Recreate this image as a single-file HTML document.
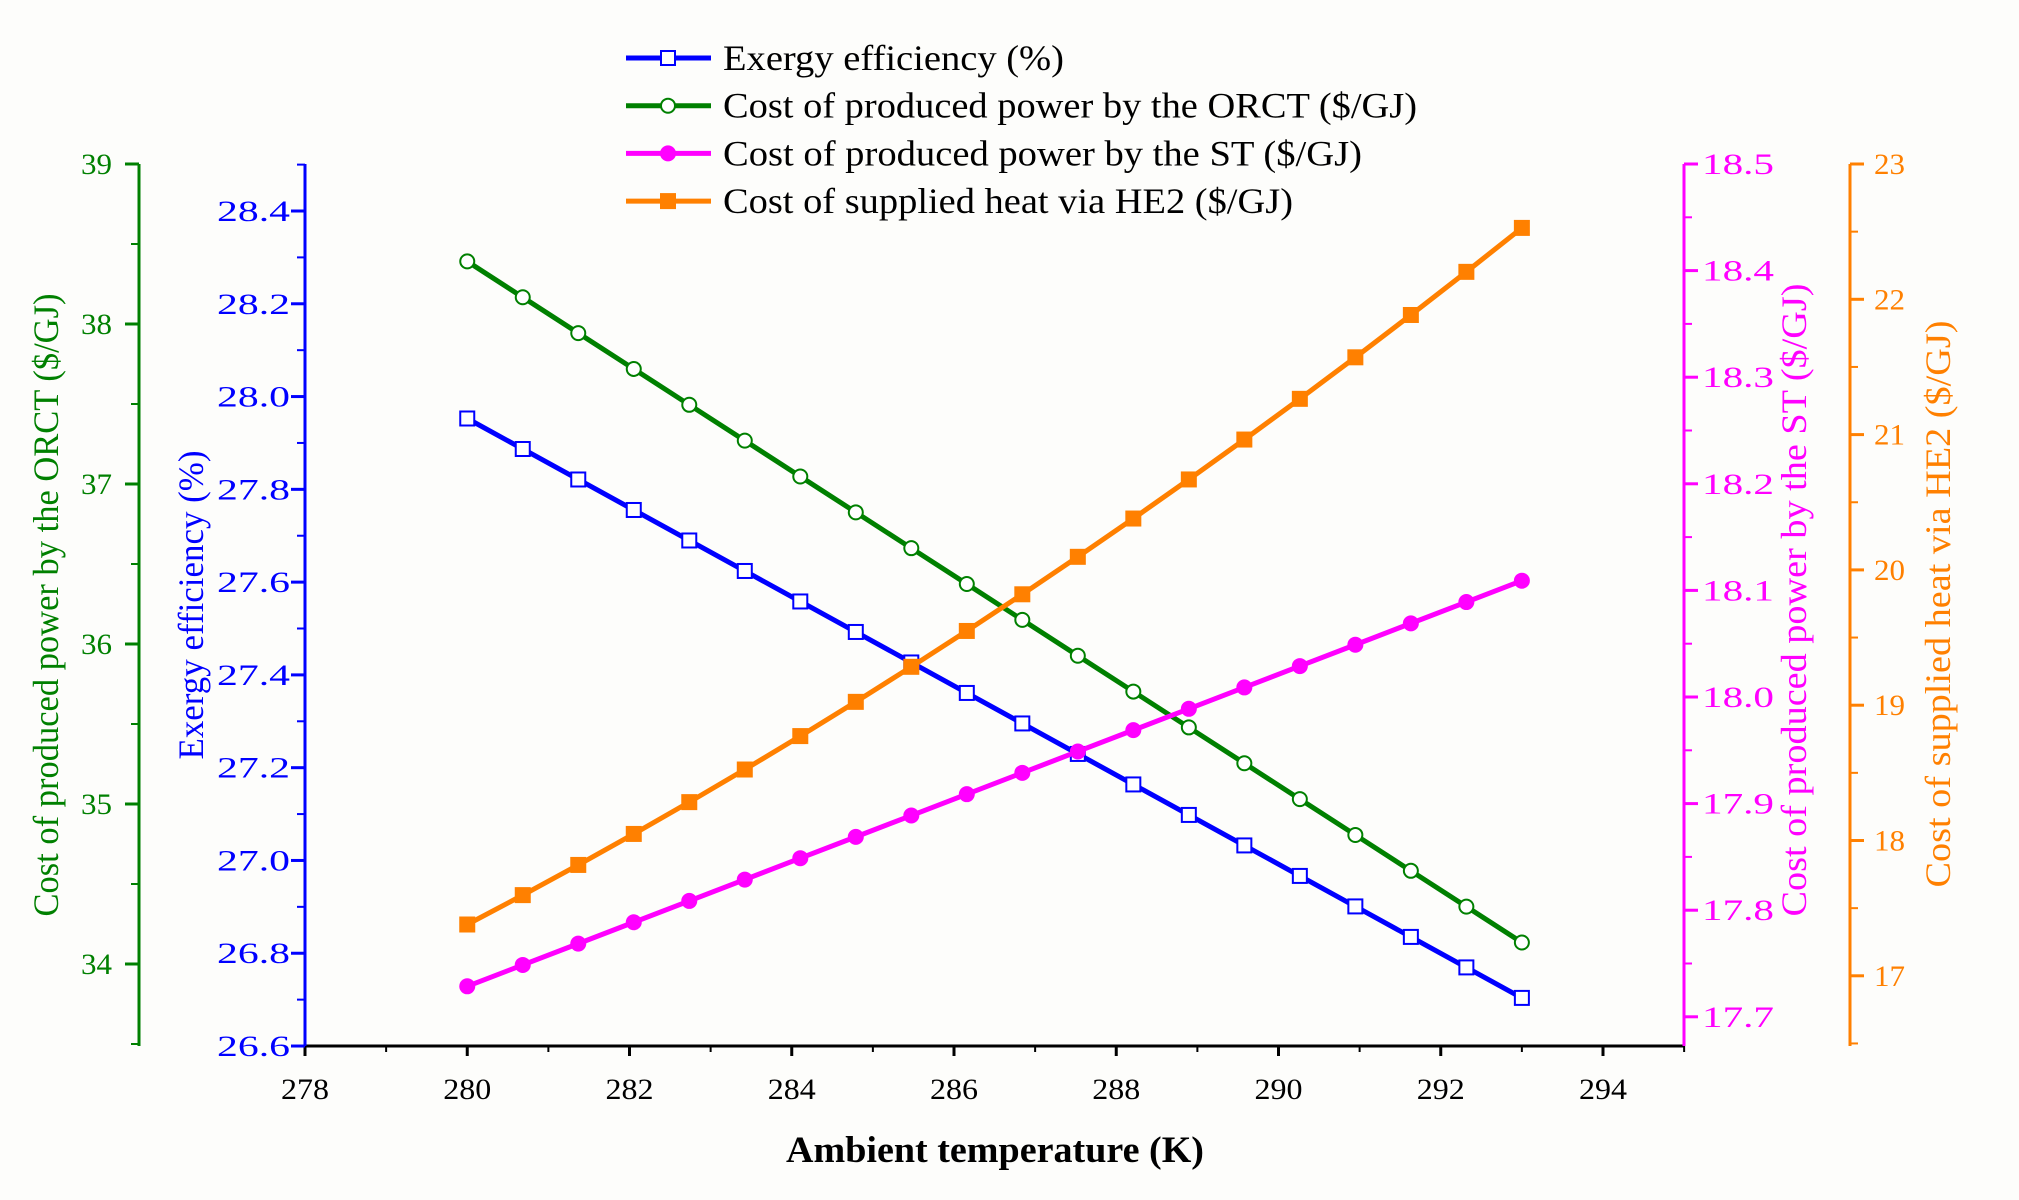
<!DOCTYPE html>
<html><head><meta charset="utf-8"><style>
html,body{margin:0;padding:0;background:#fdfdfb;}
svg{display:block;font-family:"Liberation Serif",serif;}
</style></head><body>
<svg id="s" width="2019" height="1200" viewBox="0 0 2019 1200" xmlns="http://www.w3.org/2000/svg"></svg>
<script>
const s=document.getElementById('s');let h='';
const T=164,B=1046,XL=305,XR=1684;
const xp=v=>305+(v-278)*81.125;
h+=`<line x1="${XL}" y1="${B}" x2="${XR}" y2="${B}" stroke="#000" stroke-width="3"/>`;
for(let v=278;v<=294;v+=2){const x=xp(v);h+=`<line x1="${x}" y1="${B}" x2="${x}" y2="${B+10}" stroke="#000" stroke-width="3"/><text x="${x}" y="1099" font-size="30" text-anchor="middle" textLength="48" lengthAdjust="spacingAndGlyphs">${v}</text>`;}
for(let v=279;v<=295;v+=2){const x=xp(v);h+=`<line x1="${x}" y1="${B}" x2="${x}" y2="${B+6}" stroke="#000" stroke-width="2"/>`;}
h+=`<text x="995" y="1162" font-size="37" font-weight="bold" text-anchor="middle" textLength="418" lengthAdjust="spacingAndGlyphs">Ambient temperature (K)</text>`;
function axis(x,col,dir,vals,yf,minor,lblx,anchor,fmt,tl){
 h+=`<line x1="${x}" y1="${T}" x2="${x}" y2="${B}" stroke="${col}" stroke-width="3"/>`;
 vals.forEach(v=>{const y=yf(v);h+=`<line x1="${x}" y1="${y}" x2="${x+dir*14}" y2="${y}" stroke="${col}" stroke-width="3"/><text x="${lblx}" y="${y+10}" font-size="30" fill="${col}" text-anchor="${anchor}" textLength="${tl}" lengthAdjust="spacingAndGlyphs">${fmt(v)}</text>`;});
 minor.forEach(v=>{const y=yf(v);if(y>=T-1&&y<=B+1)h+=`<line x1="${x}" y1="${y}" x2="${x+dir*8}" y2="${y}" stroke="${col}" stroke-width="2"/>`;});
}
const gy=v=>164+(39-v)*160, by=v=>211+(28.4-v)*463.9, my=v=>164+(18.5-v)*1066, oy=v=>164+(23-v)*135.3;
axis(139,'#008000',-1,[34,35,36,37,38,39],gy,[33.5,34.5,35.5,36.5,37.5,38.5],112,'end',v=>v,31);
axis(305,'#0000ff',-1,[26.6,26.8,27,27.2,27.4,27.6,27.8,28,28.2,28.4],by,[26.7,26.9,27.1,27.3,27.5,27.7,27.9,28.1,28.3,28.5],290,'end',v=>v.toFixed(1),73);
axis(1684,'#ff00ff',1,[17.7,17.8,17.9,18,18.1,18.2,18.3,18.4,18.5],my,[17.75,17.85,17.95,18.05,18.15,18.25,18.35,18.45],1702,'start',v=>v.toFixed(1),72);
axis(1850,'#ff8000',1,[17,18,19,20,21,22,23],oy,[16.5,17.5,18.5,19.5,20.5,21.5,22.5],1874,'start',v=>v,31);
function vt(x,y,col,t,L){h+=`<text transform="translate(${x},${y}) rotate(-90)" font-size="36" fill="${col}" text-anchor="middle" textLength="${L}" lengthAdjust="spacingAndGlyphs">${t}</text>`;}
vt(58,605,'#008000','Cost of produced power by the ORCT ($/GJ)',623);
vt(203,605,'#0000ff','Exergy efficiency (%)',309);
vt(1806,600,'#ff00ff','Cost of produced power by the ST ($/GJ)',633);
vt(1950,604,'#ff8000','Cost of supplied heat via HE2 ($/GJ)',567);
const N=20;const pts=f=>{let a=[];for(let i=0;i<N;i++){const t=i/(N-1);a.push([xp(280+13*t),f(t)]);}return a;};
const ser=[
 {c:'#008000',p:pts(t=>261.4+681.1*t),m:'oc'},
 {c:'#0000ff',p:pts(t=>418.5+579.4*t),m:'os'},
 {c:'#ff00ff',p:pts(t=>986.3-405.6*t),m:'fc'},
 {c:'#ff8000',p:pts(t=>924.5-696.6*t-146.1*t*(t-1)),m:'fs'}];
ser.forEach(S=>{h+=`<polyline points="${S.p.map(q=>q.join(',')).join(' ')}" fill="none" stroke="${S.c}" stroke-width="5"/>`;
 S.p.forEach(([x,y])=>{h+=mk(S.m,x,y,S.c);});});
function mk(m,x,y,c){
 if(m=='oc')return `<circle cx="${x}" cy="${y}" r="7" fill="#fff" stroke="${c}" stroke-width="2"/>`;
 if(m=='fc')return `<circle cx="${x}" cy="${y}" r="8" fill="${c}"/>`;
 if(m=='os')return `<rect x="${x-7}" y="${y-7}" width="14" height="14" fill="#fff" stroke="${c}" stroke-width="2"/>`;
 return `<rect x="${x-8}" y="${y-8}" width="16" height="16" fill="${c}"/>`;}
const L=[['#0000ff','os','Exergy efficiency (%)',341],['#008000','oc','Cost of produced power by the ORCT ($/GJ)',694],['#ff00ff','fc','Cost of produced power by the ST ($/GJ)',639],['#ff8000','fs','Cost of supplied heat via HE2 ($/GJ)',570]];
L.forEach((l,i)=>{const y=58+i*47.7;h+=`<line x1="626" y1="${y}" x2="711" y2="${y}" stroke="${l[0]}" stroke-width="5"/>`+mk(l[1],668,y,l[0])+`<text x="723" y="${y+12}" font-size="36" textLength="${l[3]}" lengthAdjust="spacingAndGlyphs">${l[2].replace(/\$/g,'&#36;')}</text>`;});
s.innerHTML=h;
</script>
</body></html>
